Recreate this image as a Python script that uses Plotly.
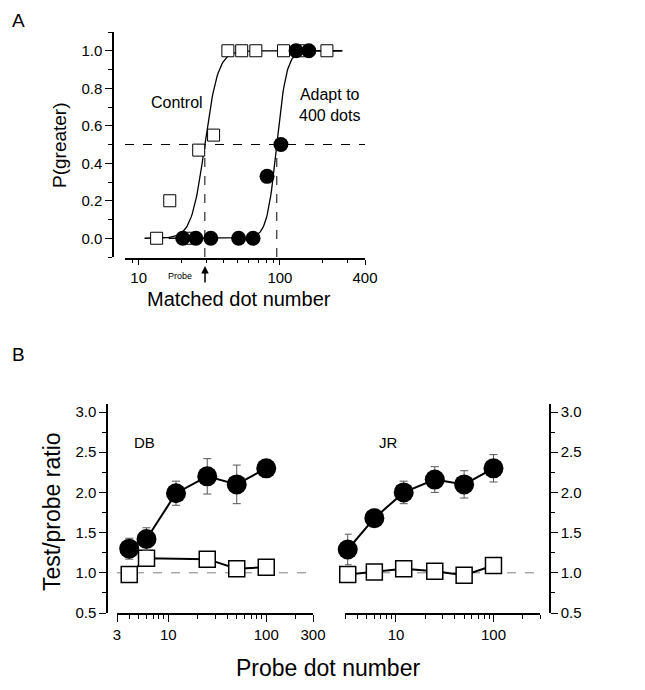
import numpy as np
import plotly.graph_objects as go

# Panel A data
ctrl_x = [13.4, 16.6, 21.9, 26.6, 33.9, 42.8, 53.6, 67.5, 106, 136, 215]
ctrl_y = [0.0, 0.2, 0.0, 0.47, 0.55, 1.0, 1.0, 1.0, 1.0, 1.0, 1.0]
adapt_x = [20.5, 25.4, 32.4, 51, 64.5, 81, 101.6, 130, 160]
adapt_y = [0.0, 0.0, 0.0, 0.0, 0.0, 0.33, 0.5, 1.0, 1.0]
ctrl_pse, ctrl_slope = 29.4, 0.047
adapt_pse, adapt_slope = 95.0, 0.035

# Panel B data
probe = [4, 6, 12, 25, 50, 100]
db_adapt = [1.30, 1.42, 1.99, 2.20, 2.10, 2.30]
db_adapt_err = [0.13, 0.14, 0.15, 0.22, 0.24, 0.11]
db_ctrl_x = [4, 6, 25, 50, 100]
db_ctrl = [0.98, 1.18, 1.17, 1.05, 1.07]
db_ctrl_err = [0.02, 0.03, 0.03, 0.03, 0.04]
jr_x = [3.2, 6, 12, 25, 50, 100]
jr_adapt = [1.29, 1.68, 2.00, 2.16, 2.10, 2.30]
jr_adapt_err = [0.19, 0.11, 0.14, 0.16, 0.17, 0.17]
jr_ctrl = [0.98, 1.01, 1.05, 1.02, 0.97, 1.09]
jr_ctrl_err = [0.03, 0.04, 0.04, 0.04, 0.05, 0.03]

W, H = 645, 690
px = lambda v: (v - 6) / W
py = lambda v: 1 - (v - 8) / H

fig = go.Figure()


def fit(pse, s, lo, hi):
    xs = np.logspace(np.log10(lo), np.log10(hi), 200)
    return xs, 1 / (1 + np.exp(-(np.log10(xs) - np.log10(pse)) / s))


cx, cy = fit(ctrl_pse, ctrl_slope, 11, 276)
ax_, ay_ = fit(adapt_pse, adapt_slope, 16.3, 276)
dash = dict(color="black", width=1, dash="dash")
fig.add_trace(go.Scatter(x=[8, 400], y=[0.5, 0.5], mode="lines", line=dash, xaxis="x", yaxis="y"))
for v in [ctrl_pse, adapt_pse]:
    fig.add_trace(go.Scatter(x=[v, v], y=[-0.1, 0.5], mode="lines", line=dash, xaxis="x", yaxis="y"))
fig.add_trace(go.Scatter(x=cx, y=cy, mode="lines", line=dict(color="black", width=1.3), xaxis="x", yaxis="y"))
fig.add_trace(go.Scatter(x=ax_, y=ay_, mode="lines", line=dict(color="black", width=1.3), xaxis="x", yaxis="y"))
fig.add_trace(go.Scatter(x=ctrl_x, y=ctrl_y, mode="markers", xaxis="x", yaxis="y",
                         marker=dict(symbol="square", size=12, color="white", line=dict(color="black", width=1))))
fig.add_trace(go.Scatter(x=adapt_x, y=adapt_y, mode="markers", xaxis="x", yaxis="y",
                         marker=dict(symbol="circle", size=15, color="black")))

# Panel B
grey_dash = dict(color="grey", width=1, dash="dash")
for xa, ya, lo, hi in [("x2", "y2", 3, 300), ("x3", "y3", 3, 300)]:
    fig.add_trace(go.Scatter(x=[lo, hi], y=[1, 1], mode="lines", line=grey_dash, xaxis=xa, yaxis=ya))


def series(x, y, e, xa, ya, filled):
    mk = dict(symbol="circle", size=20, color="black") if filled else \
        dict(symbol="square", size=16, color="white", line=dict(color="black", width=1.5))
    fig.add_trace(go.Scatter(
        x=x, y=y, mode="lines+markers", xaxis=xa, yaxis=ya, cliponaxis=False,
        line=dict(color="black", width=2), marker=mk,
        error_y=dict(type="data", array=e, color="#555", thickness=1, width=4)))


series(db_ctrl_x, db_ctrl, db_ctrl_err, "x2", "y2", False)
series(probe, db_adapt, db_adapt_err, "x2", "y2", True)
series(jr_x, jr_ctrl, jr_ctrl_err, "x3", "y3", False)
series(jr_x, jr_adapt, jr_adapt_err, "x3", "y3", True)

tickfont = dict(family="Arial", size=15, color="black")
base = dict(showline=True, linecolor="black", linewidth=1.5, ticks="outside", ticklen=7,
            tickcolor="black", showgrid=False, zeroline=False, tickfont=tickfont, automargin=False)
logminor = [20, 30, 40, 50, 60, 70, 80, 90, 200, 300]

fig.update_layout(
    width=W, height=H, margin=dict(l=0, r=0, t=0, b=0, autoexpand=False),
    plot_bgcolor="white", paper_bgcolor="white", showlegend=False,
    font=dict(family="Arial", color="black"),
    xaxis=dict(base, type="log", range=[np.log10(8), np.log10(400)], domain=[px(123), px(363)],
               tickvals=[10, 100, 400], ticktext=["10", "100", "400"], anchor="free", position=py(259),
               ticklen=5,
               minor=dict(tickvals=[9] + logminor, ticks="outside", ticklen=3, tickcolor="black")),
    yaxis=dict(base, range=[-0.1, 1.1], domain=[py(257), py(32)], tickvals=[0, 0.2, 0.4, 0.6, 0.8, 1.0],
               tickformat=".1f", anchor="free", position=px(111),
               minor=dict(dtick=0.1, ticks="outside", ticklen=4, tickcolor="black")),
    xaxis2=dict(base, type="log", range=[np.log10(3), np.log10(300)], domain=[px(115), px(311)],
                tickvals=[3, 10, 100, 300], anchor="y2",
                minor=dict(tickvals=[4, 5, 6, 7, 8, 9] + logminor[:-2] + [200], ticks="outside", ticklen=4, tickcolor="black")),
    yaxis2=dict(base, range=[0.5, 3.1], domain=[py(613), py(404)], tickvals=[0.5, 1, 1.5, 2, 2.5, 3],
                tickformat=".1f", anchor="free", position=px(105),
                minor=dict(dtick=0.25, ticks="outside", ticklen=4, tickcolor="black")),
    xaxis3=dict(base, type="log", range=[np.log10(3), np.log10(300)], domain=[px(343), px(538)],
                tickvals=[10, 100], anchor="y3",
                minor=dict(tickvals=[3, 4, 5, 6, 7, 8, 9] + logminor[:-2] + [200, 300], ticks="outside", ticklen=4, tickcolor="black")),
    yaxis3=dict(base, range=[0.5, 3.1], domain=[py(613), py(404)], tickvals=[0.5, 1, 1.5, 2, 2.5, 3],
                tickformat=".1f", anchor="free", position=px(548), side="right",
                minor=dict(dtick=0.25, ticks="outside", ticklen=4, tickcolor="black")),
)


def label(x, y, text, size, **kw):
    fig.add_annotation(x=px(x), y=py(y), xref="paper", yref="paper", text=text, showarrow=False,
                       font=dict(family="Arial", size=size, color="black"),
                       xanchor="center", yanchor="middle", **kw)


label(16, 20, "A", 19)
label(16, 354, "B", 19)
label(57, 145, "P(greater)", 19, textangle=-90)
label(237, 299, "Matched dot number", 20)
label(175, 102, "Control", 16)
label(327, 105, "Adapt to<br>400 dots", 16)
label(178, 276, "Probe", 9)
label(50, 512, "Test/probe ratio", 23, textangle=-90)
label(326, 668, "Probe dot number", 23)
label(142, 442, "DB", 15)
label(386, 442, "JR", 15)
fig.add_annotation(x=px(203), y=py(266), ax=0, ay=18, xref="paper", yref="paper",
                   text="", showarrow=True, arrowhead=2,
                   arrowsize=1, arrowwidth=1.5, arrowcolor="black")

fig.write_html("out.html")
